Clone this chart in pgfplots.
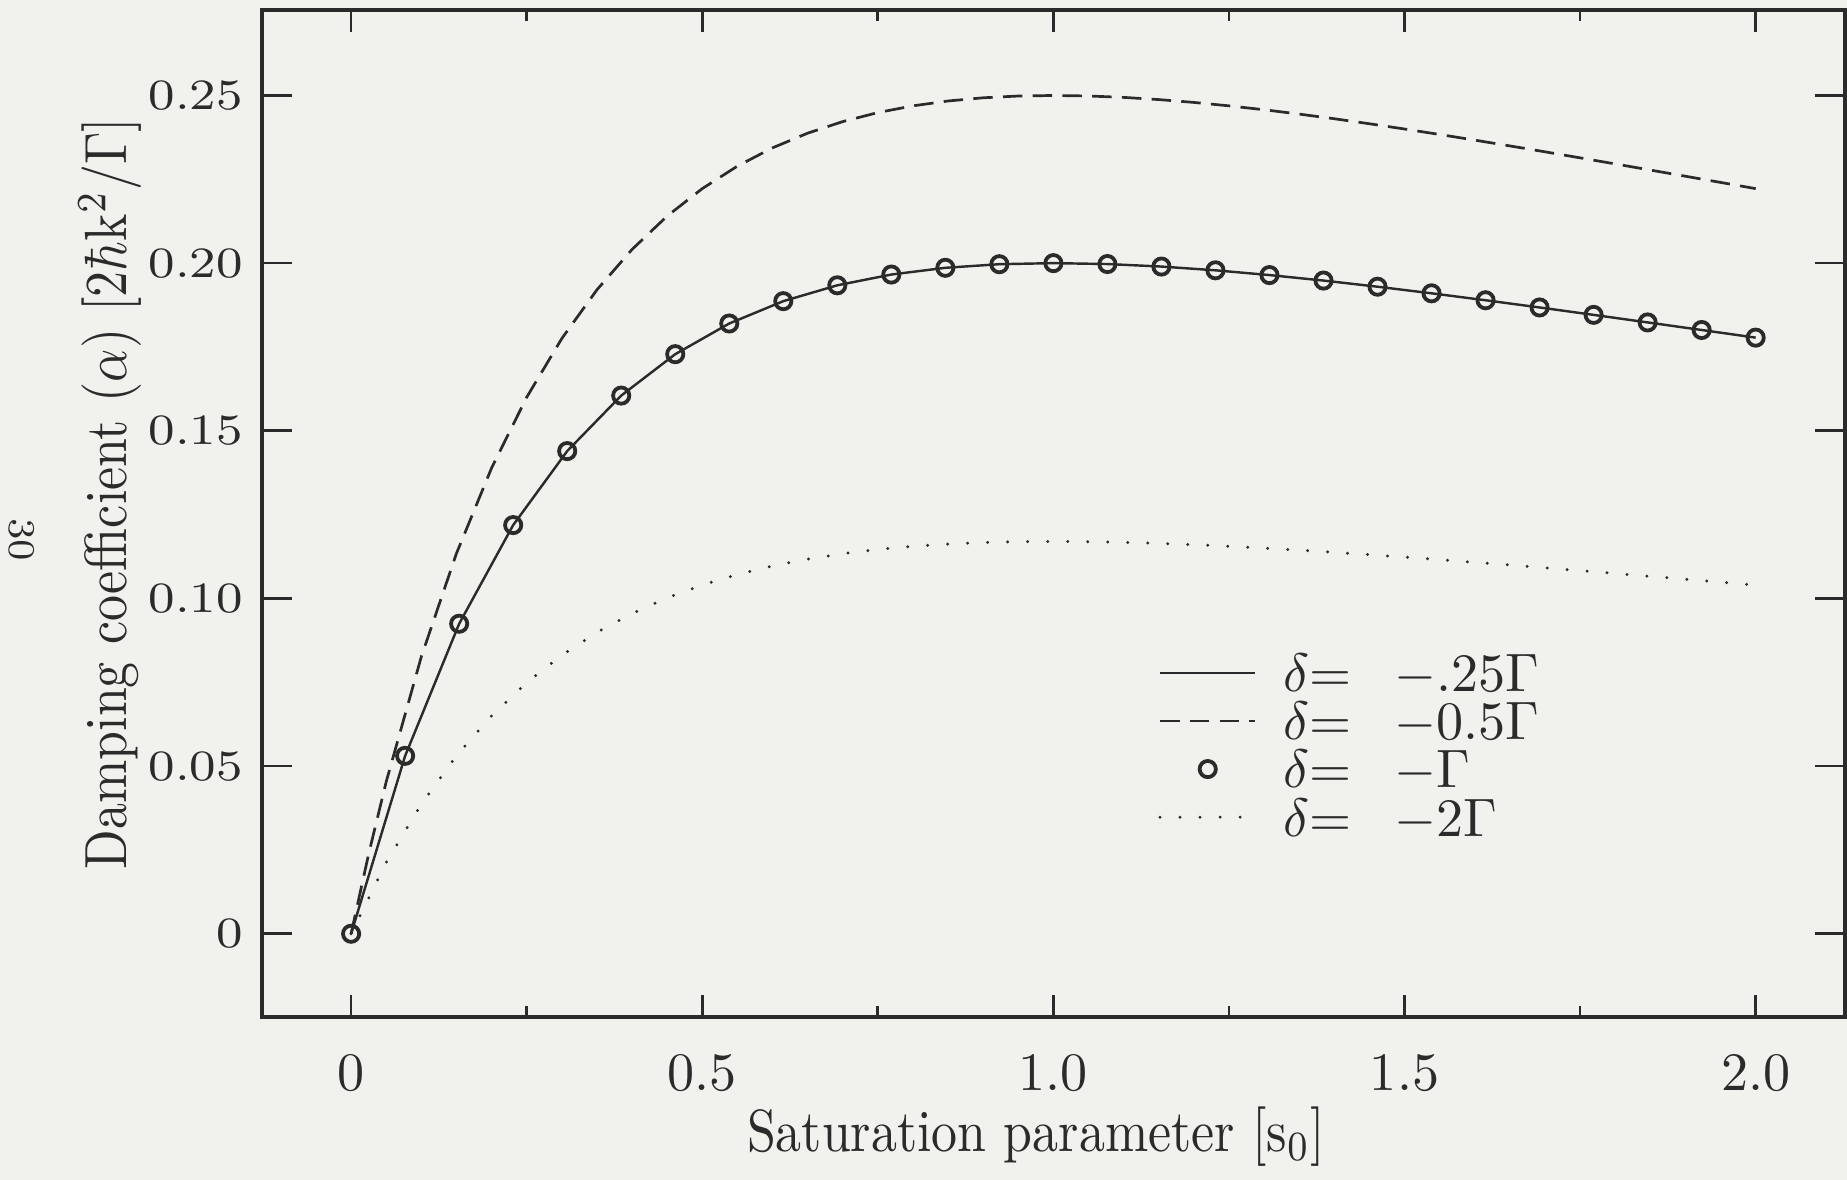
\documentclass[border=0pt]{standalone}
\usepackage{pgfplots}
\usepackage{pgfplotstable}
\pgfplotsset{compat=1.18}
\usepackage{xcolor}
\definecolor{Ink}{HTML}{2B2B2B}
\definecolor{Paper}{HTML}{F1F1ED}

% delta = -Gamma, sampled points (also carry the solid curve)
\pgfplotstableread{
s       a
0.00000 0.00000
0.07692 0.05306
0.15385 0.09245
0.23077 0.12188
0.30769 0.14395
0.38462 0.16050
0.46154 0.17285
0.53846 0.18200
0.61538 0.18866
0.69231 0.19339
0.76923 0.19660
0.84615 0.19861
0.92308 0.19968
1.00000 0.20000
1.07692 0.19973
1.15385 0.19898
1.23077 0.19786
1.30769 0.19644
1.38462 0.19480
1.46154 0.19297
1.53846 0.19100
1.61538 0.18893
1.69231 0.18678
1.76923 0.18457
1.84615 0.18232
1.92308 0.18006
2.00000 0.17778
}\circdata

\newcommand{\nl}[1]{\scalebox{0.96}[1.1]{#1}}
\newcommand{\ny}[1]{\scalebox{1.15}[1]{#1}}

\pgfplotsset{
  frame/.style={scale only axis, width=10.286cm, height=6.543cm,
    xmin=-0.127, xmax=2.127, ymin=-0.0248, ymax=0.2755,
    axis line style={Ink, line width=0.75pt},
    tick style={Ink, line width=0.5pt},
    tick align=inside,
    every tick label/.append style={text=Ink}},
}

\begin{document}
\begin{tikzpicture}
\fill[Paper] (-1.702,-1.059) rectangle (10.30,6.608);

\begin{axis}[frame,
  xtick={0,0.5,1,1.5,2},
  xticklabels={0,0.5,1.0,1.5,2.0},
  minor xtick={0.25,0.75,1.25,1.75},
  ytick=\empty,
  major tick length=0.14cm, minor tick length=0.07cm,
  xticklabel style={yshift=-0.12cm},
  xlabel={\nl{Saturation parameter [s$_0$]}},
  every axis x label/.style={at={(axis description cs:0.489,0)}, anchor=base, yshift=-0.877cm, text=Ink},
  legend cell align=left,
  legend image code/.code={\draw[mark repeat=2,mark phase=2,#1] plot coordinates {(0cm,0cm) (0.31cm,0cm) (0.62cm,0cm)};},
  legend style={draw=none, fill=none, inner sep=0pt, column sep=0.17cm, row sep=1.9pt,
    at={(axis cs:1.148,0.0838)}, anchor=north west,
    nodes={inner sep=0pt, text height=7pt, text depth=0pt, text=Ink}},
]
\addplot[Ink, line width=0.45pt] table[x=s, y=a] {\circdata};
\addlegendentry{$\delta{=}$\hspace{8pt}$-.25\Gamma$}
\addplot[Ink, line width=0.5pt, dash pattern=on 3.6pt off 1.9pt] coordinates {
(0,0) (0.025,0.0238) (0.05,0.04535) (0.10,0.08264) (0.15,0.11342) (0.20,0.13889)
(0.25,0.16) (0.30,0.17751) (0.35,0.19204) (0.40,0.20408) (0.45,0.21403)
(0.50,0.22222) (0.55,0.22893) (0.60,0.23438) (0.65,0.23875) (0.70,0.24221)
(0.75,0.24490) (0.80,0.24691) (0.85,0.24836) (0.90,0.24931) (0.95,0.24984)
(1.00,0.25) (1.05,0.24985) (1.10,0.24943) (1.15,0.24878) (1.20,0.24793)
(1.25,0.24691) (1.30,0.24575) (1.35,0.24445) (1.40,0.24306) (1.45,0.24157)
(1.50,0.24) (1.55,0.23837) (1.60,0.23669) (1.65,0.23496) (1.70,0.23320)
(1.75,0.23140) (1.80,0.22959) (1.85,0.22776) (1.90,0.22592) (1.95,0.22407)
(2.00,0.22222)};
\addlegendentry{$\delta{=}$\hspace{8pt}$-0.5\Gamma$}
\addplot[Ink, only marks, mark=o, mark size=1.5pt, mark options={line width=0.7pt}] table[x=s, y=a] {\circdata};
\addlegendentry{$\delta{=}$\hspace{8pt}$-\Gamma$}
\addplot[Ink, line width=0.6pt, line cap=round, dash pattern=on 0pt off 3.7pt] coordinates {
(0,0) (0.05,0.02122) (0.10,0.03868) (0.15,0.05308) (0.20,0.06500)
(0.25,0.07488) (0.30,0.08307) (0.35,0.08987) (0.40,0.09551) (0.45,0.10017)
(0.50,0.10400) (0.55,0.10714) (0.60,0.10969) (0.65,0.11174) (0.70,0.11335)
(0.75,0.11461) (0.80,0.11555) (0.85,0.11623) (0.90,0.11668) (0.95,0.11692)
(1.00,0.11700) (1.05,0.11693) (1.10,0.11673) (1.15,0.11643) (1.20,0.11603)
(1.25,0.11555) (1.30,0.11501) (1.35,0.11440) (1.40,0.11375) (1.45,0.11305)
(1.50,0.11232) (1.55,0.11156) (1.60,0.11077) (1.65,0.10996) (1.70,0.10914)
(1.75,0.10830) (1.80,0.10745) (1.85,0.10659) (1.90,0.10573) (1.95,0.10486)
(2.00,0.10400)};
\addlegendentry{$\delta{=}$\hspace{8pt}$-2\Gamma$}
\end{axis}

\begin{axis}[frame,
  xtick=\empty,
  ytick={0,0.05,0.10,0.15,0.20,0.25},
  yticklabels={\ny{0},\ny{0.05},\ny{0.10},\ny{0.15},\ny{0.20},\ny{0.25}},
  major tick length=0.195cm,
  yticklabel style={font=\fontsize{8}{9}\selectfont},
  ylabel={\nl{Damping coefficient $(\alpha)$ [2$\hbar$k$^2$/$\Gamma$]}},
  every axis y label/.style={at={(axis description cs:-0.0853,0.520)}, rotate=90, anchor=base, text=Ink},
]
\end{axis}

\node[rotate=-90, font=\scriptsize, text=Ink] at (-1.56,3.10) {30};

\pgfresetboundingbox
\path[use as bounding box] (-1.702,-1.059) rectangle (10.30,6.608);
\end{tikzpicture}
\end{document}
